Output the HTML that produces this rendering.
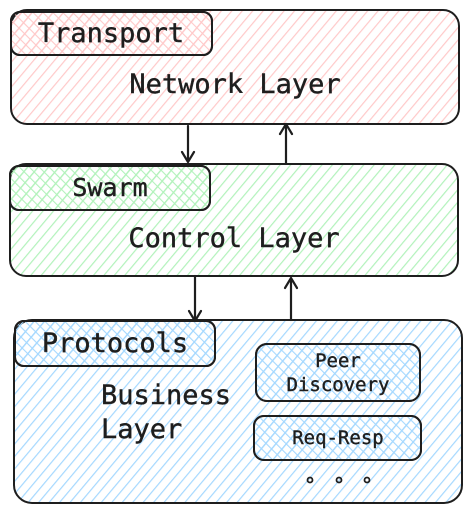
<!DOCTYPE html>
<html><head><meta charset="utf-8"><style>
html,body{margin:0;padding:0;background:#fff;width:472px;height:514px;overflow:hidden}
text{font-family:"DejaVu Sans Mono","Liberation Mono",monospace;fill:#1e1e1e;stroke:#1e1e1e;stroke-width:0.4}
</style></head><body>
<svg width="472" height="514" viewBox="0 0 472 514" xmlns="http://www.w3.org/2000/svg">
<defs>
<pattern id="hr" width="8" height="8" patternUnits="userSpaceOnUse" patternTransform="rotate(40)"><line x1="0" y1="0" x2="0" y2="8" stroke="#ffc9c9" stroke-width="2.4"/></pattern>
<pattern id="hg" width="8" height="8" patternUnits="userSpaceOnUse" patternTransform="rotate(40)"><line x1="0" y1="0" x2="0" y2="8" stroke="#b2f2bb" stroke-width="2.4"/></pattern>
<pattern id="hb" width="8" height="8" patternUnits="userSpaceOnUse" patternTransform="rotate(40)"><line x1="0" y1="0" x2="0" y2="8" stroke="#a5d8ff" stroke-width="2.4"/></pattern>
<pattern id="xr" width="7" height="7" patternUnits="userSpaceOnUse" patternTransform="rotate(-45)"><line x1="0" y1="0" x2="0" y2="7" stroke="#ffc9c9" stroke-width="2.2"/></pattern>
<pattern id="xg" width="7" height="7" patternUnits="userSpaceOnUse" patternTransform="rotate(-45)"><line x1="0" y1="0" x2="0" y2="7" stroke="#b2f2bb" stroke-width="2.2"/></pattern>
<pattern id="xb" width="7" height="7" patternUnits="userSpaceOnUse" patternTransform="rotate(-45)"><line x1="0" y1="0" x2="0" y2="7" stroke="#a5d8ff" stroke-width="2.2"/></pattern>
</defs>
<g stroke="#1e1e1e" stroke-width="2">
<rect x="11" y="10" width="448" height="114" rx="16" fill="url(#hr)"/>
<rect x="11" y="12" width="201" height="43" rx="9" fill="url(#hr)"/>
<rect x="11" y="12" width="201" height="43" rx="9" fill="url(#xr)"/>
<rect x="10" y="164" width="448" height="112" rx="16" fill="url(#hg)"/>
<rect x="10" y="166" width="200" height="44" rx="9" fill="url(#hg)"/>
<rect x="10" y="166" width="200" height="44" rx="9" fill="url(#xg)"/>
<rect x="14" y="320" width="448" height="183" rx="18" fill="url(#hb)"/>
<rect x="15" y="321" width="200" height="45" rx="9" fill="url(#hb)"/>
<rect x="15" y="321" width="200" height="45" rx="9" fill="url(#xb)"/>
<rect x="256" y="344" width="164" height="57" rx="11" fill="url(#hb)"/>
<rect x="256" y="344" width="164" height="57" rx="11" fill="url(#xb)"/>
<rect x="254" y="416" width="167" height="44" rx="10" fill="url(#hb)"/>
<rect x="254" y="416" width="167" height="44" rx="10" fill="url(#xb)"/>
<g fill="none" stroke-linecap="round" stroke-linejoin="round" stroke-width="2.2">
<path d="M188 126 L188 162 M182 152 L188 162 L194 152"/>
<path d="M286 163 L286 124 M280 134 L286 124 L292 134"/>
<path d="M195 276 L195 321 M189 311 L195 321 L201 311"/>
<path d="M291 320 L291 278 M285 288 L291 278 L297 288"/>
</g>
<g fill="none" stroke-width="1.8"><circle cx="310" cy="480" r="2.5"/><circle cx="339" cy="480" r="2.5"/><circle cx="367" cy="480" r="2.5"/></g>
</g>
<text x="111" y="42" font-size="27" text-anchor="middle">Transport</text>
<text x="235" y="93" font-size="27" text-anchor="middle">Network Layer</text>
<text x="110" y="196" font-size="25" text-anchor="middle">Swarm</text>
<text x="234" y="247" font-size="27" text-anchor="middle">Control Layer</text>
<text x="115" y="352" font-size="27" text-anchor="middle">Protocols</text>
<text x="101" y="404" font-size="27">Business</text>
<text x="101" y="438" font-size="27">Layer</text>
<text x="338" y="367" font-size="19" text-anchor="middle">Peer</text>
<text x="338" y="391" font-size="19" text-anchor="middle">Discovery</text>
<text x="338" y="444" font-size="19" text-anchor="middle">Req-Resp</text>
</svg>
</body></html>
